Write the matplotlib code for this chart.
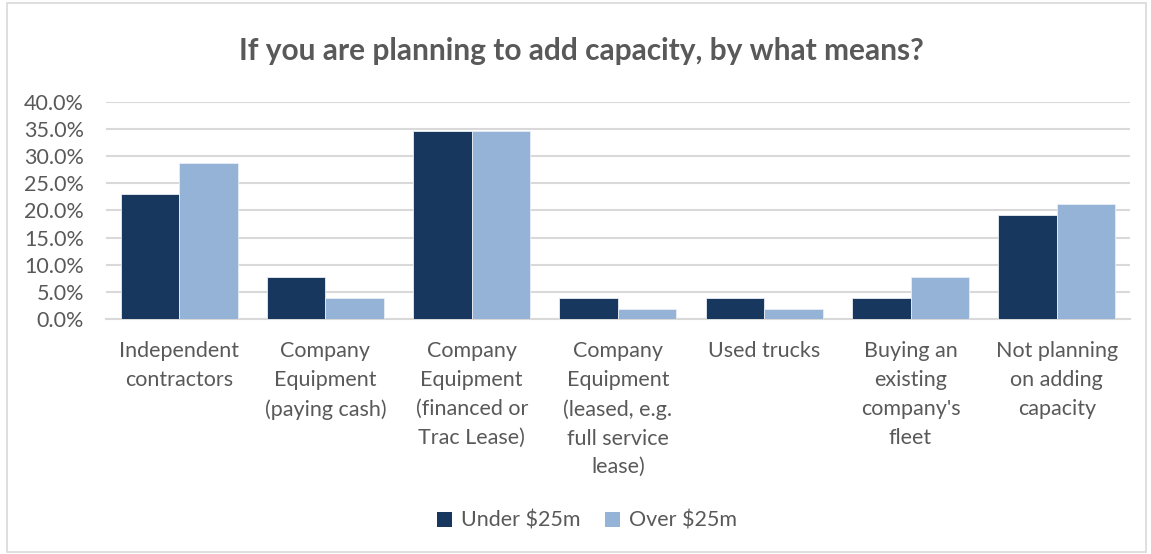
import numpy as np
import matplotlib.pyplot as plt
from matplotlib.patches import Rectangle, Patch

# Survey answers, share of respondents per fleet-size group
categories = [
    "Independent\ncontractors",
    "Company\nEquipment\n(paying cash)",
    "Company\nEquipment\n(financed or\nTrac Lease)",
    "Company\nEquipment\n(leased, e.g.\nfull service\nlease)",
    "Used trucks",
    "Buying an\nexisting\ncompany's\nfleet",
    "Not planning\non adding\ncapacity",
]
under_25m = [23.1, 7.7, 34.6, 3.8, 3.8, 3.8, 19.2]
over_25m = [28.8, 3.8, 34.6, 1.9, 1.9, 7.7, 21.2]
yticks = [0, 5, 10, 15, 20, 25, 30, 35, 40]

dark = "#17375E"
light = "#95B3D7"
text_col = "#595959"
grid_col = "#D9D9D9"

plt.rcParams['font.family'] = ['Lato', 'DejaVu Sans']

fig = plt.figure(figsize=(11.51, 5.54), dpi=100)
ax = fig.add_axes([0.0921, 0.4242, 0.8896, 0.3917])

# outer chart border
fig.patches.append(Rectangle((0.006, 0.004), 0.99, 0.99, transform=fig.transFigure,
                             fill=False, edgecolor="#D9D9D9", linewidth=1.2))

x = np.arange(len(categories))
w = 0.4
ax.bar(x - w / 2, under_25m, w, color=dark, edgecolor="#E8EDF4", linewidth=0.6,
       zorder=3, label="Under $25m")
ax.bar(x + w / 2, over_25m, w, color=light, edgecolor="#E8EDF4", linewidth=0.6,
       zorder=3, label="Over $25m")

ax.set_xlim(-0.5, len(categories) - 0.5)
ax.set_ylim(0, 40)
ax.set_yticks(yticks)
ax.set_yticklabels([f"{v:.1f}%" for v in yticks])
ax.yaxis.grid(True, color=grid_col, linewidth=1.5, zorder=0)
ax.set_axisbelow(True)
for s in ["top", "right", "left"]:
    ax.spines[s].set_visible(False)
ax.spines["bottom"].set_color(grid_col)
ax.spines["bottom"].set_linewidth(1.5)

ax.set_xticks(x)
ax.set_xticklabels(categories, linespacing=1.55, va="top")
ax.tick_params(axis="both", length=0, labelsize=15.5, labelcolor=text_col)
ax.tick_params(axis="x", pad=16)
ax.tick_params(axis="y", pad=16)

fig.text(0.505, 0.908, "If you are planning to add capacity, by what means?",
         ha="center", va="center", fontsize=21.5, fontweight="bold", color=text_col)

handles = [Patch(facecolor=dark, label="Under $25m"), Patch(facecolor=light, label="Over $25m")]
fig.legend(handles=handles, loc="center", bbox_to_anchor=(0.51, 0.06), ncol=2, frameon=False,
           fontsize=15.5, labelcolor=text_col, handlelength=0.7, handleheight=0.7,
           handletextpad=0.4, columnspacing=1.15)

fig.savefig("out.png", dpi=100)
